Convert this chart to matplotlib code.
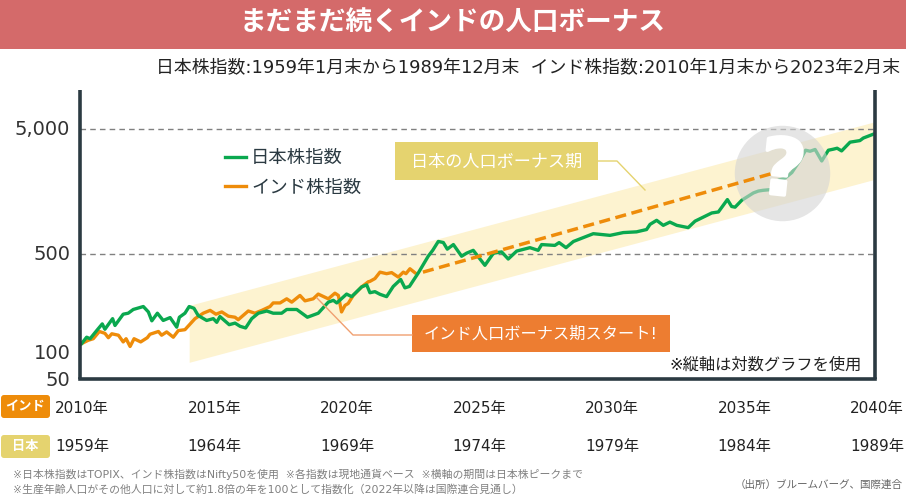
import matplotlib
matplotlib.use('Agg')
import matplotlib.pyplot as plt
import matplotlib.patheffects as pe
from matplotlib.patches import FancyBboxPatch, Rectangle
from matplotlib.transforms import ScaledTranslation

plt.rcParams['font.family'] = ['DejaVu Sans', 'Noto Sans CJK JP']

# 日本株指数 (横軸は 2010 年起点に揃えた年)
japan_years = [2010.06, 2010.25, 2010.38, 2010.63, 2010.84, 2010.94, 2011.23, 2011.32, 2011.63, 2011.82,
               2012.01, 2012.39, 2012.58, 2012.71, 2012.92, 2013.14, 2013.40, 2013.65, 2013.75, 2013.96,
               2014.12, 2014.30, 2014.46, 2014.78, 2015.03, 2015.16, 2015.28, 2015.63, 2015.85, 2016.04,
               2016.25, 2016.48, 2016.73, 2017.05, 2017.29, 2017.61, 2017.80, 2018.18, 2018.58, 2018.99,
               2019.37, 2019.56, 2019.69, 2020.06, 2020.25, 2020.63, 2020.82, 2020.94, 2021.13, 2021.32,
               2021.57, 2021.82, 2022.10, 2022.26, 2022.43, 2022.77, 2023.14, 2023.31, 2023.52, 2023.71,
               2023.86, 2024.09, 2024.40, 2024.59, 2024.84, 2025.28, 2025.60, 2025.91, 2026.16, 2026.48,
               2026.98, 2027.29, 2027.42, 2027.92, 2028.08, 2028.34, 2028.62, 2029.37, 2030.00, 2030.50,
               2031.00, 2031.38, 2031.51, 2031.76, 2032.01, 2032.26, 2032.52, 2032.95, 2033.21, 2033.84,
               2034.09, 2034.43, 2034.59, 2034.72, 2034.97, 2035.41, 2035.60, 2035.78, 2036.10, 2036.35,
               2036.60, 2036.86, 2037.17, 2037.38, 2037.55, 2037.74, 2037.99, 2038.24, 2038.43, 2038.57,
               2038.74, 2039.06, 2039.43, 2039.56, 2040.00]
japan_values = [96, 108, 105, 122, 138, 125, 152, 134, 165, 168,
                180, 190, 172, 146, 168, 147, 155, 130, 156, 168,
                190, 184, 161, 147, 152, 142, 158, 136, 140, 132,
                128, 152, 168, 175, 168, 168, 180, 180, 156, 168,
                206, 213, 203, 239, 228, 273, 283, 245, 250, 238,
                228, 275, 313, 268, 275, 354, 480, 535, 630, 618,
                547, 595, 480, 508, 535, 406, 507, 520, 456, 528,
                562, 535, 595, 586, 617, 562, 630, 727, 705, 742,
                752, 785, 863, 930, 848, 900, 848, 813, 916, 1065,
                1085, 1363, 1200, 1185, 1345, 1540, 1595, 1617, 1640, 1945,
                2020, 2240, 2813, 3383, 3320, 3430, 2775, 3383, 3450, 3510,
                3340, 3925, 4040, 4235, 4600]

# インド株指数
india_years = [2010.06, 2010.31, 2010.50, 2010.73, 2010.94, 2011.07, 2011.20, 2011.45, 2011.63, 2011.74,
               2011.89, 2012.04, 2012.29, 2012.54, 2012.64, 2012.96, 2013.08, 2013.27, 2013.52, 2013.71,
               2013.96, 2014.34, 2014.65, 2014.91, 2015.13, 2015.35, 2015.60, 2015.85, 2015.97, 2016.35,
               2016.60, 2016.86, 2017.17, 2017.29, 2017.55, 2017.80, 2017.99, 2018.30, 2018.49, 2018.80,
               2018.99, 2019.37, 2019.62, 2019.75, 2019.87, 2020.00, 2020.12, 2020.31, 2020.63, 2020.88,
               2020.94, 2021.13, 2021.32, 2021.57, 2021.76, 2022.01, 2022.20, 2022.30, 2022.45, 2022.64]
india_values = [96, 102, 105, 120, 116, 107, 115, 112, 99, 105,
                91, 105, 99, 107, 114, 120, 112, 119, 108, 122,
                124, 152, 168, 177, 165, 172, 159, 156, 149, 175,
                168, 177, 190, 203, 203, 219, 206, 233, 211, 219,
                239, 219, 243, 233, 172, 194, 201, 233, 273, 300,
                302, 318, 358, 348, 355, 327, 358, 348, 381, 354]

# インド株指数の延長 (点線)
india_trend_years = [2022.94, 2036.10]
india_trend_values = [358, 2200]

# 人口ボーナス期の帯
band_years = [2014.12, 2039.94]
band_upper = [194, 5680]
band_lower = [68, 1966]

y_ticks = [50, 100, 500, 5000]
y_tick_labels = ['50', '100', '500', '5,000']
x_ticks = [2010, 2015, 2020, 2025, 2030, 2035, 2040]
india_labels = ['2010年', '2015年', '2020年', '2025年', '2030年', '2035年', '2040年']
japan_labels = ['1959年', '1964年', '1969年', '1974年', '1979年', '1984年', '1989年']

GREEN = '#0AA84F'
ORANGE = '#EE8C0A'
YELLOW = '#E5D36F'
BOX_ORANGE = '#ED7D31'
DARK = '#2B3A42'
TEXT = '#222222'

fig = plt.figure(figsize=(9.06, 4.94), dpi=100)
ax = fig.add_axes([80 / 906, 1 - 379 / 494, 795 / 906, 289 / 494])
ax.set_yscale('log')
ax.set_xlim(2010, 2040)
ax.set_ylim(50, 10260)

ax.fill_between(band_years, band_lower, band_upper, color='#FDF3D0', lw=0, zorder=1)
ax.set_yticks(y_ticks)
ax.set_yticklabels(y_tick_labels, fontsize=14, color='#333333')
ax.minorticks_off()
ax.tick_params(axis='y', length=0, pad=7)
ax.set_xticks(x_ticks)
ax.set_xticklabels([])
ax.tick_params(axis='x', length=0)

# 目盛ラベルの位置を元図に寄せる (100 は元図でも下にずれている)
label_shift = {'50': 1, '100': -10, '500': 2, '5,000': 2}
for lab in ax.get_yticklabels():
    shift = ScaledTranslation(0, label_shift[lab.get_text()] / 100, fig.dpi_scale_trans)
    lab.set_transform(lab.get_transform() + shift)

for v in [500, 5000]:
    ax.axhline(v, color='#808080', lw=1, ls=(0, (4, 3)), zorder=1.5)

orange_line, = ax.plot(india_years, india_values, color=ORANGE, lw=2.4, zorder=2, label='インド株指数')
green_line, = ax.plot(japan_years, japan_values, color=GREEN, lw=2.4, zorder=2.1, label='日本株指数')

# ? マーク
ax.scatter([2036.5], [2238], s=4725, color='#D4D4D4', alpha=0.6, linewidths=0, zorder=3)
ax.plot(india_trend_years, india_trend_values, color=ORANGE, lw=2.5, ls=(0, (3.2, 1.6)), zorder=4)
ax.text(2036.5, 2238, '?', color='white', fontsize=56, fontweight='bold', rotation=-6,
        ha='center', va='center', zorder=5,
        path_effects=[pe.withStroke(linewidth=2.5, foreground='white')])

for s in ['left', 'right', 'bottom']:
    ax.spines[s].set_linewidth(2.6)
    ax.spines[s].set_color(DARK)
ax.spines['left'].set_capstyle('butt')
ax.spines['right'].set_capstyle('butt')
ax.spines['top'].set_visible(False)

ax.legend(handles=[green_line, orange_line], loc='center left',
          bbox_to_anchor=(145 / 795, 206 / 289), frameon=False, fontsize=13.2,
          borderpad=0, borderaxespad=0, labelspacing=0.64, handlelength=1.13, handletextpad=0.3,
          labelcolor=DARK)

# 年ラベル 2 段
for yr, ind, jp in zip(x_ticks, india_labels, japan_labels):
    ax.annotate(ind, xy=(yr, 0), xycoords=ax.get_xaxis_transform(), xytext=(2, -30),
                textcoords='offset pixels', ha='center', va='center', fontsize=11, color=TEXT,
                annotation_clip=False)
    ax.annotate(jp, xy=(yr, 0), xycoords=ax.get_xaxis_transform(), xytext=(2, -68),
                textcoords='offset pixels', ha='center', va='center', fontsize=11, color=TEXT,
                annotation_clip=False)

# 装飾はピクセル座標の重ね軸に描く
over = fig.add_axes([0, 0, 1, 1], zorder=10)
over.set_xlim(0, 906)
over.set_ylim(494, 0)
over.axis('off')

over.add_patch(Rectangle((0, 0), 906, 49, color='#D46A6A', lw=0))
over.text(453, 24, 'まだまだ続くインドの人口ボーナス', color='white', fontsize=19.2, fontweight='bold',
          ha='center', va='center')
over.text(900, 68, '日本株指数:1959年1月末から1989年12月末  インド株指数:2010年1月末から2023年2月末',
          color=TEXT, fontsize=12.85, ha='right', va='center')

# 吹き出し
over.plot([597, 617, 645], [161, 161, 190], color=YELLOW, lw=1)
over.add_patch(Rectangle((395, 142), 203, 38, color=YELLOW, lw=0))
over.text(497, 162, '日本の人口ボーナス期', color='white', fontsize=12.3, ha='center', va='center')

over.plot([412, 353, 317], [335, 335, 298], color='#F0A070', lw=1)
over.add_patch(Rectangle((412, 315), 258, 37, color=BOX_ORANGE, lw=0))
over.text(541, 334, 'インド人口ボーナス期スタート!', color='white', fontsize=11.7, ha='center', va='center')

over.text(862, 365, '※縦軸は対数グラフを使用', color=TEXT, fontsize=11.7, ha='right', va='center')

# バッジ
for y0, c, t in [(395, ORANGE, 'インド'), (435, YELLOW, '日本')]:
    over.add_patch(FancyBboxPatch((3, y0 + 2), 45, 19, boxstyle='round,pad=2,rounding_size=3', color=c, lw=0))
    over.text(25.5, y0 + 11.5, t, color='white', fontsize=9.5, fontweight='bold', ha='center', va='center')

# 注記
note_color = '#808080'
over.text(13, 474, '※日本株指数はTOPIX、インド株指数はNifty50を使用  ※各指数は現地通貨ベース  ※横軸の期間は日本株ピークまで',
          color=note_color, fontsize=7.8, ha='left', va='center')
over.text(13, 489, '※生産年齢人口がその他人口に対して約1.8倍の年を100として指数化（2022年以降は国際連合見通し）',
          color=note_color, fontsize=7.8, ha='left', va='center')
over.text(903, 485, '（出所）ブルームバーグ、国際連合', color='#666666', fontsize=7.6, ha='right', va='center')

fig.savefig('out.png', dpi=100)
